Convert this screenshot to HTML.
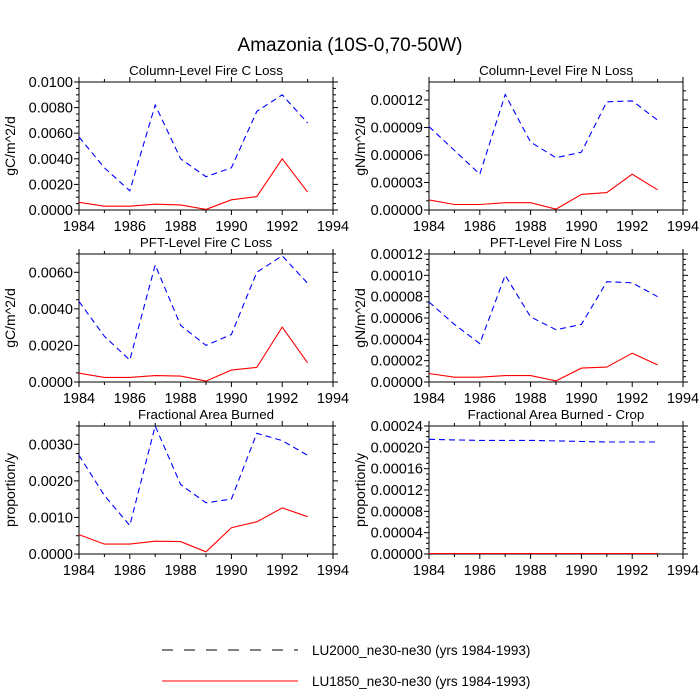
<!DOCTYPE html>
<html><head><meta charset="utf-8"><style>
body{margin:0;background:#fff;}
svg{display:block;font-family:"Liberation Sans",sans-serif;}
</style></head><body>
<svg id="c" width="700" height="700">
<text x="350" y="51" text-anchor="middle" font-size="19">Amazonia (10S-0,70-50W)</text>
<g>
<line x1="162" y1="650" x2="298" y2="650" stroke="#000" stroke-dasharray="11,11"/>
<text x="312" y="655" font-size="13.5">LU2000_ne30-ne30 (yrs 1984-1993)</text>
<line x1="162" y1="681" x2="298" y2="681" stroke="#f00"/>
<text x="312" y="686" font-size="13.5">LU1850_ne30-ne30 (yrs 1984-1993)</text>
</g>
</svg>
<script>
const years=[1984,1985,1986,1987,1988,1989,1990,1991,1992,1993];
const xTicks=[1984,1986,1988,1990,1992,1994];
const blueColC=[0.0057,0.0033,0.0015,0.0082,0.0040,0.0026,0.0033,0.0077,0.0090,0.0068];
const redColC=[0.0006,0.0003,0.0003,0.00045,0.0004,0.00005,0.0008,0.00105,0.0040,0.0014];
const blueColN=[0.000091,0.000065,0.000039,0.000126,0.000074,0.000057,0.000063,0.000118,0.000119,0.000098];
const redColN=[0.000011,0.000006,0.000006,0.000008,0.000008,0.000001,0.000017,0.000019,0.000039,0.000022];
const bluePftC=[0.0044,0.0025,0.0012,0.0064,0.0031,0.0020,0.0026,0.0060,0.0069,0.0054];
const redPftC=[0.00048,0.00025,0.00025,0.00035,0.00032,0.00005,0.00065,0.0008,0.0030,0.00105];
const bluePftN=[0.000075,0.000054,0.000036,0.0001,0.000061,0.000049,0.000054,0.000094,0.000093,0.00008];
const redPftN=[0.000008,0.0000045,0.0000045,0.000006,0.000006,0.000001,0.000013,0.000014,0.000027,0.000016];
const blueFab=[0.0027,0.0016,0.00078,0.0035,0.0019,0.0014,0.0015,0.0033,0.0031,0.0027];
const redFab=[0.00053,0.00027,0.00027,0.00035,0.00034,0.00006,0.00072,0.00088,0.00126,0.00102];
const blueFabCrop=[0.000215,0.000214,0.000213,0.000213,0.000213,0.000212,0.000211,0.00021,0.00021,0.00021];
const redFabCrop=[0.000001,0.000001,0.000001,0.000001,0.000001,0.000001,0.000001,0.000001,0.000001,0.000001];
const ticksColC=["0.0000","0.0020","0.0040","0.0060","0.0080","0.0100"];
const ticksColN=["0.00000","0.00003","0.00006","0.00009","0.00012"];
const ticksPftC=["0.0000","0.0020","0.0040","0.0060"];
const ticksPftN=["0.00000","0.00002","0.00004","0.00006","0.00008","0.00010","0.00012"];
const ticksFab=["0.0000","0.0010","0.0020","0.0030"];
const ticksFabCrop=["0.00000","0.00004","0.00008","0.00012","0.00016","0.00020","0.00024"];

const panels=[
 {name:"column-c-loss",title:"Column-Level Fire C Loss",ylab:"gC/m^2/d",x:79,y:82,max:0.01,ticks:ticksColC,blue:blueColC,red:redColC,minor:4},
 {name:"column-n-loss",title:"Column-Level Fire N Loss",ylab:"gN/m^2/d",x:429,y:82,max:0.0001396,ticks:ticksColN,blue:blueColN,red:redColN,minor:3},
 {name:"pft-c-loss",title:"PFT-Level Fire C Loss",ylab:"gC/m^2/d",x:79,y:254,max:0.007,ticks:ticksPftC,blue:bluePftC,red:redPftC,minor:4},
 {name:"pft-n-loss",title:"PFT-Level Fire N Loss",ylab:"gN/m^2/d",x:429,y:254,max:0.00012,ticks:ticksPftN,blue:bluePftN,red:redPftN,minor:4},
 {name:"fraction-burned",title:"Fractional Area Burned",ylab:"proportion/y",x:79,y:426,max:0.0035,ticks:ticksFab,blue:blueFab,red:redFab,minor:4},
 {name:"fraction-burned-crop",title:"Fractional Area Burned - Crop",ylab:"proportion/y",x:429,y:426,max:0.00024,ticks:ticksFabCrop,blue:blueFabCrop,red:redFabCrop,minor:4}
];
const W=254,H=128,NS="http://www.w3.org/2000/svg";
const svg=document.getElementById('c');
function mk(t,a,p){const e=document.createElementNS(NS,t);for(const k in a)e.setAttribute(k,a[k]);(p||svg).appendChild(e);return e;}
panels.forEach(p=>{
 const g=mk('g',{});
 
 
 const xs=v=>p.x+(v-1984)/10*W;
 const ys=v=>p.y+H-v/p.max*H;
 const r=mk('rect',{x:p.x,y:p.y,width:W,height:H,fill:'none',stroke:'#000','stroke-width':1},g);
 
 
 const t=mk('text',{x:p.x+W/2,y:p.y-7,'text-anchor':'middle','font-size':13.3},g);
 t.textContent=p.title;
 
 
 const yl=mk('text',{transform:`translate(${p.x-64},${p.y+H/2}) rotate(-90)`,'text-anchor':'middle','font-size':14},g);
 yl.textContent=p.ylab;
 
 
 for(let yr=1984;yr<=1994;yr++){
  const major=(yr%2===0), L=major?5:3, X=xs(yr);
  mk('line',{x1:X,x2:X,y1:p.y+H,y2:p.y+H+L,stroke:'#000'},g);
  mk('line',{x1:X,x2:X,y1:p.y,y2:p.y-L,stroke:'#000'},g);
 }
 xTicks.forEach(v=>{
  const tl=mk('text',{x:xs(v),y:p.y+H+21,'text-anchor':'middle','font-size':14.5},g);
  tl.textContent=v;
  
  
 });
 const step=parseFloat(p.ticks[1]);
 const ms=step/p.minor;
 for(let i=0;i*ms<=p.max*1.0001;i++){
  const v=i*ms, Y=ys(v), major=(i%p.minor===0), L=major?5:3;
  mk('line',{x1:p.x-L,x2:p.x,y1:Y,y2:Y,stroke:'#000'},g);
  mk('line',{x1:p.x+W,x2:p.x+W+L,y1:Y,y2:Y,stroke:'#000'},g);
 }
 p.ticks.forEach(s=>{
  const tl=mk('text',{x:p.x-6,y:ys(parseFloat(s))+5,'text-anchor':'end','font-size':14.5},g);
  tl.textContent=s;
  
  
 });
 const pts=a=>a.map((v,i)=>xs(years[i]).toFixed(1)+','+ys(v).toFixed(1)).join(' ');
 const bl=mk('polyline',{points:pts(p.blue),fill:'none',stroke:'#00f','stroke-width':1.1,'stroke-dasharray':'6,4'},g);
 
 
 const rl=mk('polyline',{points:pts(p.red),fill:'none',stroke:'#f00','stroke-width':1.1},g);
 
 
});
</script>
</body></html>
